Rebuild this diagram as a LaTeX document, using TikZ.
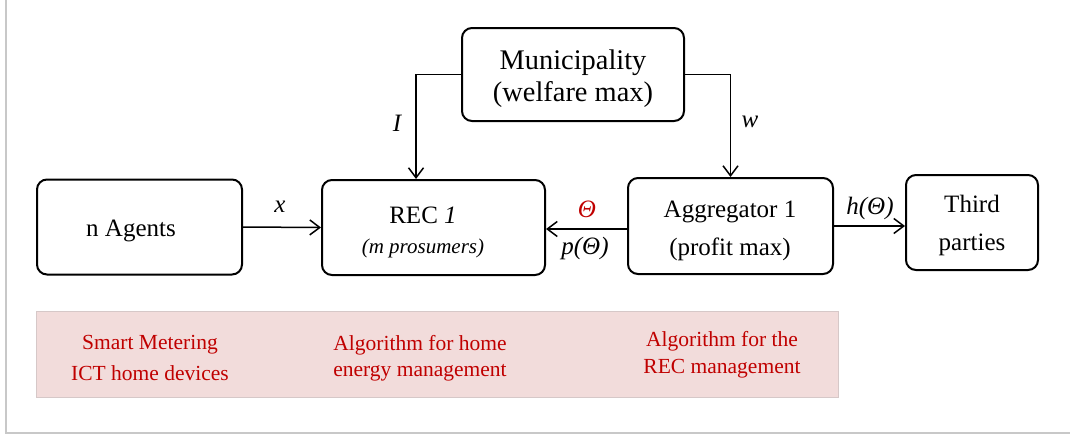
\documentclass[tikz,border=0pt]{standalone}
\usepackage{fontspec}
\setmainfont{Liberation Serif}
\usepackage{tikz}
\usetikzlibrary{arrows.meta,positioning,calc}
\definecolor{recred}{HTML}{C00000}
\definecolor{pinkfill}{HTML}{F2DCDB}
\definecolor{pinkline}{HTML}{D6C8C8}
\definecolor{framegray}{HTML}{C8C8C8}

\begin{document}
\begin{tikzpicture}
[
	x=0.5pt, y=-0.5pt,
	box/.style={rectangle,rounded corners=5pt,draw=black,line width=1pt},
	boxtxt/.style={align=center,font=\fontsize{12.5}{19}\selectfont},
	arr/.style={line width=0.75pt,-{Straight Barb[length=5pt,width=7.5pt]}},
	lbl/.style={font=\fontsize{12.5}{15}\selectfont\itshape},
	redtxt/.style={text=recred,align=center,font=\fontsize{10.75}{15.5}\selectfont},
]
	\useasboundingbox (0,0) rectangle (1070,434);
	\draw[framegray,line width=0.75pt] (6,0) -- (6,433) -- (1070,433);

	\begin{scope}
		\node[rectangle,fill=pinkfill,draw=pinkline,line width=0.5pt,minimum width=401pt,minimum height=43pt] (band) at (437,354){};
		\node[redtxt] (meter) at (150,357.5) {Smart Metering\\ICT home devices};
		\node[redtxt,font=\fontsize{10.75}{13}\selectfont] (home) at (420,358) {Algorithm for home\\energy management};
		\node[redtxt,font=\fontsize{10.75}{13.5}\selectfont] (mgmt) at (722,354.5) {Algorithm for the\\REC management};
	\end{scope}

	\begin{scope}
		\node[box,minimum width=102.5pt,minimum height=47.5pt] (agents) at (139.5,227) {};
		\node[box,minimum width=111.5pt,minimum height=47.5pt] (rec) at (433.5,227.5) {};
		\node[box,minimum width=111pt,minimum height=46.5pt] (muni) at (573,74.5) {};
		\node[box,minimum width=102.5pt,minimum height=48pt] (aggr) at (730.5,226) {};
		\node[box,minimum width=66pt,minimum height=47.5pt] (third) at (972,222.5) {};

		\node[boxtxt] (agentstxt) at (131,231) {n Agents};
		\node[boxtxt] (rectxt) at (423,232) {REC \textit{1}\\[-4pt]{\fontsize{10.5}{12}\selectfont\itshape (m prosumers)}};
		\node[boxtxt,font=\fontsize{14.2}{16}\selectfont] (munitxt) at (573,79) {Municipality\\(welfare max)};
		\node[boxtxt] (aggrtxt) at (730,231) {Aggregator 1\\(profit max)};
		\node[boxtxt] (thirdtxt) at (972,225.5) {Third\\parties};
	\end{scope}

	\begin{scope}
		\draw[arr] (muni.west) -| ([xshift=-8.75pt]rec.north);
		\draw[arr] (muni.east) -| (aggr.north);
		\draw[arr] (agents.east) -- (rec.west);
		\draw[arr] ([yshift=-1.5pt]aggr.west) -- ([yshift=-1.5pt]aggr.west -| rec.east);
		\draw[arr] (aggr.east) -- (aggr.east -| third.west);

		\node[lbl] (lblI) at (397,123) {I};
		\node[lbl] (lblw) at (750,122) {w};
		\node[lbl] (lblx) at (280,207) {x};
		\node[lbl,text=recred] (lbltheta) at (587,209) {Θ};
		\node[lbl] (lblp) at (585,248) {p(Θ)};
		\node[lbl] (lblh) at (870,208) {h(Θ)};
	\end{scope}
\end{tikzpicture}
\end{document}
